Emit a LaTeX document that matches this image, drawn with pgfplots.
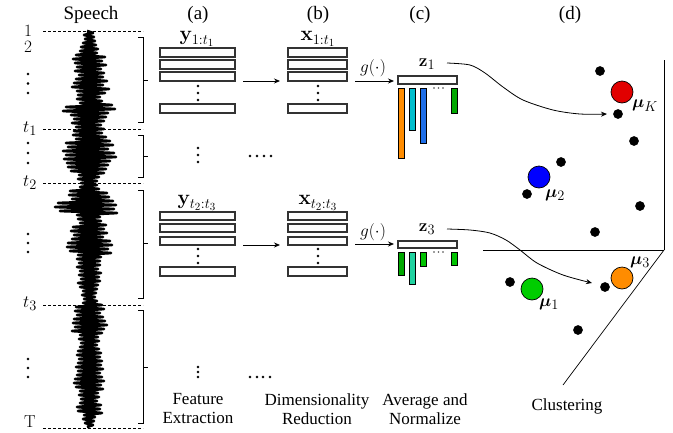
\documentclass[border=0pt]{standalone}
\usepackage{pgfplots}
\pgfplotsset{compat=1.18}
\usepackage{amsmath}
\usepackage{bm}
\usepackage[no-math]{fontspec}
\setmainfont{Liberation Serif}
\usetikzlibrary{arrows.meta}

\definecolor{corange}{RGB}{255,140,0}
\definecolor{ccyan}{RGB}{0,190,205}
\definecolor{cblue}{RGB}{30,110,232}
\definecolor{cgreen}{RGB}{0,168,0}
\definecolor{clgreen}{RGB}{0,195,0}
\definecolor{cteal}{RGB}{32,210,160}
\definecolor{cred}{RGB}{225,0,0}
\definecolor{cmblue}{RGB}{0,0,255}
\definecolor{cmgreen}{RGB}{0,205,0}

% box: [fill] x1 y1 x2 y2
\newcommand{\bx}[5][white]{%
  \addplot[draw=black!80, line width=1.1pt, fill=#1, mark=none]
    coordinates {(#2,#3)(#4,#3)(#4,#5)(#2,#5)} --cycle;}
\newcommand{\cbar}[5]{%
  \addplot[draw=black, line width=0.8pt, fill=#1, mark=none]
    coordinates {(#2,#3)(#4,#3)(#4,#5)(#2,#5)} --cycle;}
\newcommand{\seg}[1]{\addplot[black, line width=0.7pt, mark=none] coordinates {#1};}
\newcommand{\txt}{\fontsize{17}{19}\selectfont}
\newcommand{\ttl}{\fontsize{19}{22}\selectfont}
\newcommand{\mth}{\fontsize{19}{22}\selectfont}
\newcommand{\mthb}{\fontsize{21}{24}\selectfont}

\begin{document}
\txt
\begin{tikzpicture}[font=\txt]
\clip (0,0) rectangle (673pt,432pt);
\begin{axis}[
  width=673pt, height=432pt, scale only axis,
  xmin=0, xmax=673, ymin=0, ymax=432, y dir=reverse,
  hide axis, clip=false,
  every node/.append style={font=\txt},
  >={Stealth[length=6pt,width=5pt]}]

% speech waveform
\addplot[black, line width=2.7pt, line join=round, mark=none] coordinates {
(87,31)(93,33)(84,35)(94,37)(85,39)(95,41)(83,43)(96,45)(81,47)(98,49)
(80,51)(97,53)(76,55)(105,57)(73,59)(102,61)(75,63)(106,65)(77,67)(101,69)
(75,71)(104,73)(79,75)(103,77)(76,79)(107,81)(74,83)(103,85)(72,87)(109,89)
(77,91)(105,93)(78,95)(100,97)(77,99)(102,101)(80,103)(112,105)(66,107)(115,109)
(63,111)(108,113)(71,115)(106,117)(74,119)(104,121)(72,123)(101,125)(76,127)(104,129)
(74,131)(102,133)(73,135)(106,137)(76,139)(110,141)(66,143)(113,145)(68,147)(108,149)
(63,151)(114,153)(66,155)(116,157)(64,159)(110,161)(67,163)(108,165)(68,167)(106,169)
(71,171)(104,173)(79,175)(99,177)(78,179)(97,181)(81,183)(97,185)(80,187)(99,189)
(70,191)(107,193)(69,195)(109,197)(72,199)(113,201)(58,203)(116,205)(55,207)(114,209)
(60,211)(117,213)(77,215)(100,217)(78,219)(101,221)(80,223)(106,225)(73,227)(104,229)
(71,231)(107,233)(74,235)(103,237)(72,239)(110,241)(68,243)(112,245)(67,247)(108,249)
(70,251)(111,253)(78,255)(101,257)(77,259)(100,261)(79,263)(100,265)(77,267)(98,269)
(80,271)(101,273)(79,275)(99,277)(81,279)(100,281)(78,283)(98,285)(80,287)(97,289)
(83,291)(96,293)(82,295)(95,297)(84,299)(97,301)(83,303)(102,305)(76,307)(104,309)
(75,311)(100,313)(77,315)(103,317)(74,319)(105,321)(73,323)(107,325)(75,327)(104,329)
(72,331)(102,333)(80,335)(98,337)(79,339)(99,341)(81,343)(97,345)(80,347)(99,349)
(78,351)(101,353)(77,355)(100,357)(79,359)(102,361)(78,363)(101,365)(76,367)(103,369)
(78,371)(100,373)(77,375)(102,377)(75,379)(104,381)(74,383)(101,385)(76,387)(103,389)
(80,391)(98,393)(79,395)(99,397)(81,399)(97,401)(80,403)(101,405)(77,407)(100,409)
(78,411)(102,413)(84,415)(95,417)(83,419)(94,421)(85,423)(93,425)(87,427)};

% segment boundaries
\addplot[black, line width=0.7pt, dash pattern=on 3pt off 2pt, mark=none] coordinates {(43,31)(143,31)};
\addplot[black, line width=0.7pt, dash pattern=on 3pt off 2pt, mark=none] coordinates {(43,129)(143,129)};
\addplot[black, line width=0.7pt, dash pattern=on 3pt off 2pt, mark=none] coordinates {(43,183)(143,183)};
\addplot[black, line width=0.7pt, dash pattern=on 3pt off 2pt, mark=none] coordinates {(43,305)(143,305)};
\addplot[black, line width=0.7pt, dash pattern=on 3pt off 2pt, mark=none] coordinates {(43,428)(143,428)};

% brackets
\seg{(138,37)(143,37)(143,122)(138,122)} \seg{(143,80)(148,80)}
\seg{(138,135)(143,135)(143,177)(138,177)} \seg{(143,156)(148,156)}
\seg{(138,190)(143,190)(143,298)(138,298)} \seg{(143,243)(148,243)}
\seg{(138,310)(143,310)(143,423)(138,423)} \seg{(143,367)(148,367)}

% vertical and horizontal dots
\addplot[only marks, mark=*, mark size=1.1pt, black] coordinates {
(28,74)(28,83.5)(28,93) (28,143)(28,153)(28,163)
(28,234)(28,243)(28,252) (28,359)(28,368)(28,377)
(198,86)(198,93)(198,100) (318,86)(318,93)(318,100)
(198,249)(198,256)(198,263) (318,249)(318,256)(318,263)
(198,148)(198,155)(198,162) (250,156)(257,156)(264,156)(271,156)
(198,367)(198,372)(198,377) (250,377)(257,377)(263,377)(270,377)};
\addplot[only marks, mark=*, mark size=0.6pt, black!60] coordinates {
(434,88)(438.5,88)(443,88) (434,252)(438.5,252)(443,252)};

% feature frames (a) and (b)
\bx{160}{48}{235}{57} \bx{160}{60}{235}{69} \bx{160}{72}{235}{81} \bx{160}{104}{235}{113}
\bx{288}{48}{347}{57} \bx{288}{60}{347}{69} \bx{288}{72}{347}{81} \bx{288}{104}{347}{113}
\bx{160}{212}{235}{220} \bx{160}{224}{235}{232} \bx{160}{237}{235}{245} \bx{160}{267}{235}{276}
\bx{288}{212}{347}{220} \bx{288}{224}{347}{232} \bx{288}{237}{347}{245} \bx{288}{267}{347}{276}

% arrows
\addplot[black, line width=0.8pt, ->, mark=none] coordinates {(243,81)(280,81)};
\addplot[black, line width=0.8pt, ->, mark=none] coordinates {(243,245)(280,245)};
\addplot[black, line width=0.8pt, ->, mark=none] coordinates {(355,81)(394,81)};
\addplot[black, line width=0.8pt, ->, mark=none] coordinates {(355,244)(394,244)};

% (c) averaged vectors
\bx{398}{76}{457}{84}
\cbar{corange}{398}{88}{404}{158}
\cbar{ccyan}{409}{88}{415}{130}
\cbar{cblue}{420}{88}{426}{143}
\cbar{cgreen}{451}{88}{457}{113}
\bx{398}{241}{457}{248}
\cbar{cgreen}{398}{252}{404}{275}
\cbar{cteal}{409}{252}{415}{284}
\cbar{clgreen}{420}{252}{426}{266}
\cbar{clgreen}{451}{252}{457}{265}

% (d) clustering frame
\seg{(664,60)(664,250)}
\seg{(483,250)(664,250)}
\seg{(664,250)(563,385)}

% mapping curves
\addplot[black, line width=0.8pt, smooth, ->, mark=none] coordinates {
(447,63)(470,65)(485,73)(503,87)(523,100)(553,110)(580,114)(607,114)};
\addplot[black, line width=0.8pt, smooth, ->, mark=none] coordinates {
(447,229)(470,230)(490,233)(506,240)(520,250)(537,263)(563,275)(592,283)};

% data points
\addplot[only marks, mark=*, mark size=4.6pt, black] coordinates {
(600,71)(618,114)(634,141)(561,162)(527,194)(640,206)(595,232)
(510,282)(605,287)(578,330)};

% centroids
\addplot[only marks, mark=*, mark size=11pt, draw=black, fill=cred, mark options={line width=0.7pt}] coordinates {(622,92)};
\addplot[only marks, mark=*, mark size=11pt, draw=black, fill=cmblue, mark options={line width=0.7pt}] coordinates {(539,177)};
\addplot[only marks, mark=*, mark size=11pt, draw=black, fill=cmgreen, mark options={line width=0.7pt}] coordinates {(532,289)};
\addplot[only marks, mark=*, mark size=11pt, draw=black, fill=corange, mark options={line width=0.7pt}] coordinates {(622,278)};

% text
\node[font=\ttl] at (axis cs:91,15) {Speech};
\node[font=\ttl] at (axis cs:198,15) {(a)};
\node[font=\ttl] at (axis cs:318,15) {(b)};
\node[font=\ttl] at (axis cs:420,15) {(c)};
\node[font=\ttl] at (axis cs:570,15) {(d)};
\node[font=\txt] at (axis cs:28,31) {$1$};
\node[font=\txt] at (axis cs:28,47) {$2$};
\node[font=\mth] at (axis cs:30,129) {$t_1$};
\node[font=\mth] at (axis cs:30,183) {$t_2$};
\node[font=\mth] at (axis cs:30,304) {$t_3$};
\node[font=\txt, inner sep=1pt] at (axis cs:30,422) {$\mathrm{T}$};
\node[font=\mthb] at (axis cs:197,39) {$\mathbf{y}_{1:t_1}$};
\node[font=\mthb] at (axis cs:318,39) {$\mathbf{x}_{1:t_1}$};
\node[font=\mthb] at (axis cs:197,203) {$\mathbf{y}_{t_2:t_3}$};
\node[font=\mthb] at (axis cs:318,203) {$\mathbf{x}_{t_2:t_3}$};
\node[font=\mth] at (axis cs:373,68) {$g(\cdot)$};
\node[font=\mth] at (axis cs:373,232) {$g(\cdot)$};
\node[font=\mth] at (axis cs:427,64) {$\mathbf{z}_1$};
\node[font=\mth] at (axis cs:427,229) {$\mathbf{z}_3$};
\node[font=\mth] at (axis cs:645,106) {$\bm{\mu}_K$};
\node[font=\mth] at (axis cs:555,195) {$\bm{\mu}_2$};
\node[font=\mth] at (axis cs:549,304) {$\bm{\mu}_1$};
\node[font=\mth] at (axis cs:640,262) {$\bm{\mu}_3$};
\node[align=center] at (axis cs:198,409) {Feature\\Extraction};
\node[align=center] at (axis cs:317,409) {Dimensionality\\Reduction};
\node[align=center] at (axis cs:425,409) {Average and\\Normalize};
\node at (axis cs:567,406) {Clustering};
\end{axis}
\end{tikzpicture}
\end{document}
